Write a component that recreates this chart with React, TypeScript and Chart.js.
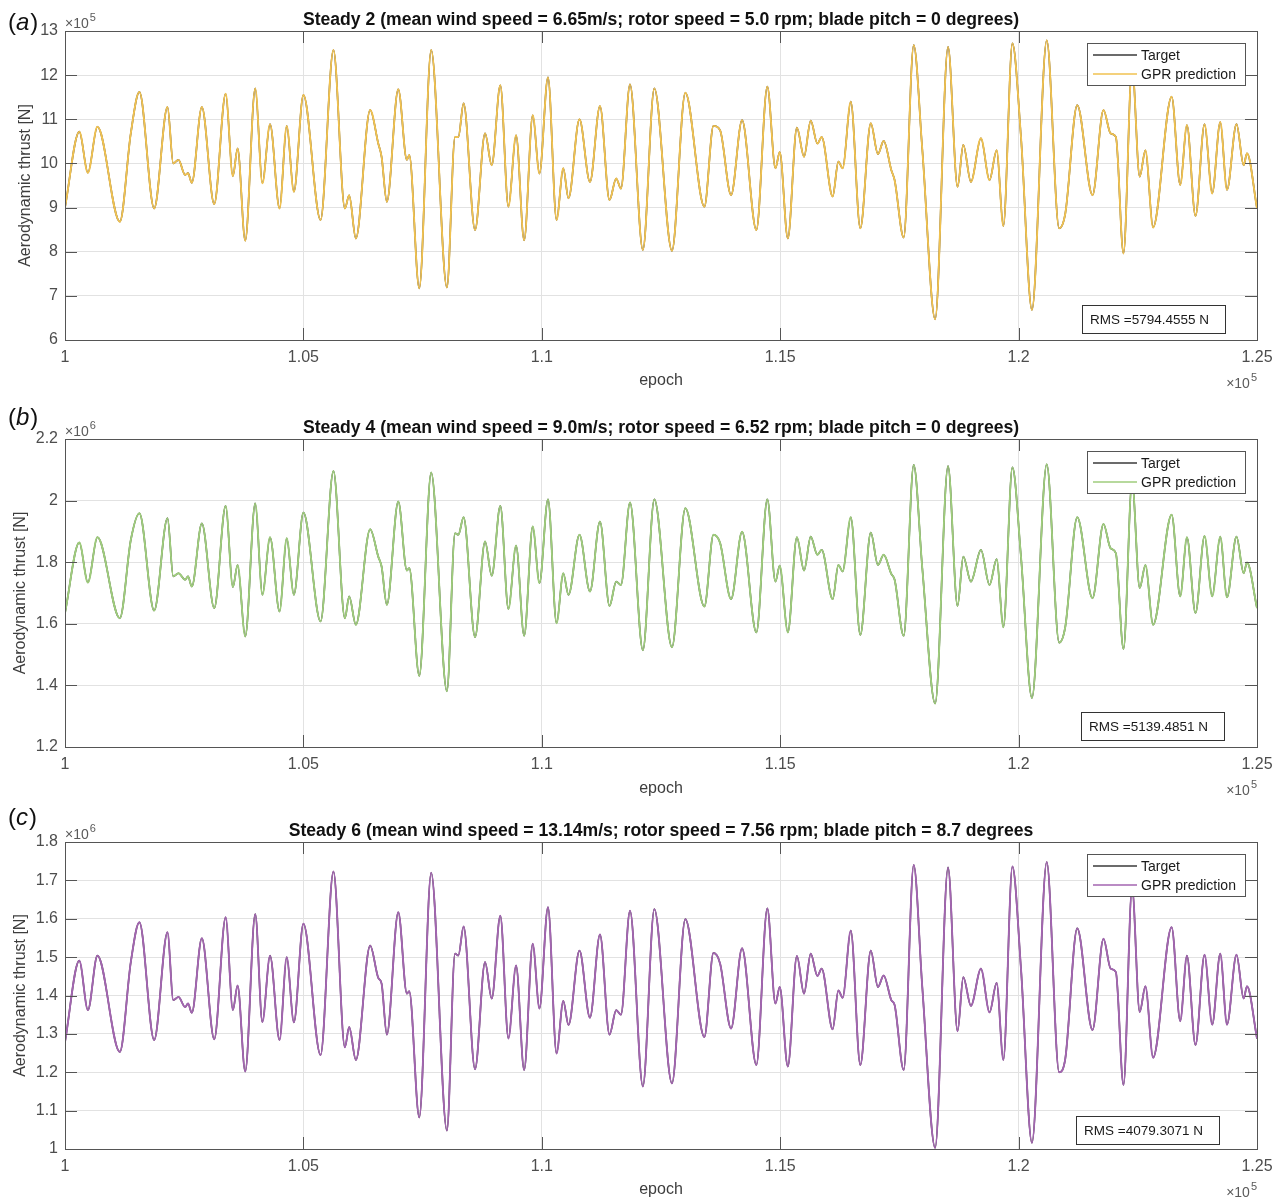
import { useEffect, useRef } from "react";
import { Chart, registerables, type Plugin } from "chart.js";

Chart.register(...registerables);

const FONT = '"Liberation Sans", Arial, Helvetica, sans-serif';
const AXIS = "#555555";
const GRID = "#e2e2e2";
const TICK_TEXT = "#4d4d4d";
const TARGET = "#3a3a3a";

// epochs of the traced peaks, troughs and kinks (same gust history in all three runs)
const epochs = [
  100000, 100300, 100480, 100680, 101150, 101380, 101560, 101870, 102150, 102270,
  102380, 102520, 102580, 102660, 102870, 103130, 103370, 103520, 103620, 103780,
  103990, 104140, 104300, 104500, 104650, 104800, 105000, 105360, 105630, 105870,
  105960, 106100, 106400, 106570, 106640, 106750, 106990, 107170, 107220, 107430,
  107680, 108010, 108180, 108250, 108360, 108600, 108810, 108950, 109130, 109300,
  109460, 109630, 109810, 109950, 110130, 110310, 110450, 110560, 110790, 111010,
  111220, 111420, 111560, 111660, 111850, 112120, 112360, 112730, 113010, 113410,
  113600, 113740, 113970, 114200, 114500, 114730, 114900, 114990, 115160, 115350,
  115500, 115640, 115780, 115870, 116100, 116220, 116310, 116480, 116680, 116900,
  117050, 117170, 117330, 117400, 117590, 117800, 117980, 118250, 118520, 118720,
  118840, 119000, 119210, 119390, 119540, 119680, 119870, 120050, 120280, 120590,
  120850, 120980, 121230, 121550, 121780, 121930, 122040, 122200, 122380, 122540,
  122660, 122820, 123210, 123390, 123530, 123710, 123900, 124060, 124230, 124370,
  124570, 124720, 124790, 125000,
];

// thrust, x10^5 N
const thrustSteady2 = [
  9.0, 10.72, 9.79, 10.83, 8.68, 10.68, 11.62, 8.98, 11.28, 10.0,
  10.08, 9.74, 9.78, 9.56, 11.28, 9.08, 11.58, 9.71, 10.34, 8.25,
  11.7, 9.55, 10.89, 8.98, 10.85, 9.36, 11.55, 8.72, 12.57, 8.98,
  9.28, 8.3, 11.21, 10.45, 10.15, 9.13, 11.68, 10.08, 10.19, 7.17,
  12.57, 7.19, 10.6, 10.6, 11.36, 8.49, 10.68, 9.96, 11.77, 9.02,
  10.64, 8.26, 11.09, 9.77, 11.95, 8.72, 9.89, 9.21, 11.0, 9.58,
  11.3, 9.17, 9.66, 9.43, 11.79, 8.04, 11.7, 8.02, 11.6, 9.02,
  10.85, 10.75, 9.28, 10.98, 8.49, 11.74, 9.89, 10.26, 8.3, 10.81,
  10.15, 10.97, 10.45, 10.6, 9.25, 10.04, 9.89, 11.4, 8.53, 10.91,
  10.21, 10.51, 9.85, 9.62, 8.32, 12.68, 10.32, 6.47, 12.64, 9.47,
  10.42, 9.58, 10.57, 9.62, 10.3, 8.58, 12.72, 10.6, 6.68, 12.79,
  8.53, 8.87, 11.32, 9.28, 11.21, 10.68, 10.6, 7.96, 12.2, 9.7,
  10.3, 8.55, 11.51, 9.51, 10.87, 8.81, 10.89, 9.32, 10.94, 9.4,
  10.89, 9.96, 10.23, 8.98,
];

// thrust, x10^6 N
const thrustSteady4 = [
  1.635, 1.864, 1.734, 1.881, 1.618, 1.872, 1.959, 1.643, 1.943, 1.754,
  1.764, 1.743, 1.754, 1.721, 1.926, 1.651, 1.983, 1.719, 1.791, 1.559,
  1.991, 1.694, 1.881, 1.64, 1.878, 1.694, 1.961, 1.608, 2.096, 1.618,
  1.689, 1.597, 1.907, 1.818, 1.786, 1.662, 1.997, 1.773, 1.781, 1.431,
  2.091, 1.381, 1.894, 1.889, 1.946, 1.557, 1.867, 1.756, 1.983, 1.648,
  1.854, 1.561, 1.916, 1.732, 2.004, 1.602, 1.764, 1.694, 1.889, 1.705,
  1.932, 1.658, 1.737, 1.726, 1.994, 1.514, 2.004, 1.524, 1.975, 1.656,
  1.889, 1.862, 1.68, 1.899, 1.572, 2.004, 1.737, 1.789, 1.572, 1.881,
  1.773, 1.883, 1.824, 1.84, 1.68, 1.791, 1.77, 1.946, 1.564, 1.896,
  1.791, 1.824, 1.762, 1.743, 1.561, 2.116, 1.781, 1.341, 2.112, 1.658,
  1.818, 1.737, 1.84, 1.726, 1.81, 1.589, 2.108, 1.818, 1.359, 2.118,
  1.539, 1.591, 1.946, 1.683, 1.924, 1.845, 1.829, 1.518, 2.06, 1.716,
  1.791, 1.597, 1.954, 1.689, 1.881, 1.635, 1.885, 1.689, 1.883, 1.686,
  1.883, 1.764, 1.799, 1.651,
];

// thrust, x10^6 N
const thrustSteady6 = [
  1.279, 1.491, 1.362, 1.504, 1.253, 1.487, 1.591, 1.284, 1.565, 1.388,
  1.396, 1.37, 1.379, 1.355, 1.549, 1.286, 1.604, 1.362, 1.426, 1.202,
  1.612, 1.331, 1.504, 1.284, 1.5, 1.33, 1.587, 1.245, 1.723, 1.265,
  1.318, 1.232, 1.53, 1.446, 1.431, 1.298, 1.617, 1.405, 1.411, 1.082,
  1.72, 1.048, 1.509, 1.504, 1.58, 1.208, 1.487, 1.392, 1.608, 1.288,
  1.478, 1.206, 1.535, 1.366, 1.63, 1.249, 1.386, 1.323, 1.517, 1.342,
  1.559, 1.298, 1.362, 1.35, 1.621, 1.163, 1.625, 1.171, 1.599, 1.292,
  1.511, 1.483, 1.314, 1.523, 1.219, 1.627, 1.379, 1.422, 1.215, 1.503,
  1.405, 1.509, 1.451, 1.47, 1.312, 1.413, 1.394, 1.569, 1.219, 1.517,
  1.422, 1.452, 1.388, 1.375, 1.206, 1.74, 1.422, 1.003, 1.734, 1.307,
  1.448, 1.373, 1.47, 1.356, 1.433, 1.232, 1.736, 1.47, 1.016, 1.748,
  1.2, 1.236, 1.575, 1.31, 1.548, 1.47, 1.461, 1.167, 1.68, 1.357,
  1.424, 1.238, 1.578, 1.333, 1.504, 1.271, 1.506, 1.324, 1.509, 1.324,
  1.506, 1.392, 1.424, 1.288,
];

const xTickValues = [100000, 105000, 110000, 115000, 120000, 125000];
const yTicksSteady2 = [6, 7, 8, 9, 10, 11, 12, 13];
const yTicksSteady4 = [1.2, 1.4, 1.6, 1.8, 2.0, 2.2];
const yTicksSteady6 = [1.0, 1.1, 1.2, 1.3, 1.4, 1.5, 1.6, 1.7, 1.8];

type Panel = {
  letter: string;
  title: string;
  values: number[];
  yTicks: number[];
  exponent: number;
  color: string;
  rms: string;
  top: number;
  plotTop: number;
  plotBottom: number;
  yTitlePad: number;
  epochPad: number;
  letterY: number;
  rmsRight: number;
  rmsBottom: number;
};

const panels: Panel[] = [
  {
    letter: "a",
    title: "Steady 2 (mean wind speed = 6.65m/s; rotor speed = 5.0 rpm; blade pitch = 0 degrees)",
    values: thrustSteady2,
    yTicks: yTicksSteady2,
    exponent: 5,
    color: "#f1c250",
    rms: "RMS =5794.4555 N",
    top: 0,
    plotTop: 31,
    plotBottom: 340,
    yTitlePad: 16,
    epochPad: 10,
    letterY: 23,
    rmsRight: 32,
    rmsBottom: 7,
  },
  {
    letter: "b",
    title: "Steady 4 (mean wind speed = 9.0m/s; rotor speed = 6.52 rpm; blade pitch = 0 degrees)",
    values: thrustSteady4,
    yTicks: yTicksSteady4,
    exponent: 6,
    color: "#9fcd7c",
    rms: "RMS =5139.4851 N",
    top: 400,
    plotTop: 39,
    plotBottom: 347,
    yTitlePad: 11,
    epochPad: 1.5,
    letterY: 18,
    rmsRight: 33,
    rmsBottom: 7,
  },
  {
    letter: "c",
    title: "Steady 6 (mean wind speed = 13.14m/s; rotor speed = 7.56 rpm; blade pitch = 8.7 degrees",
    values: thrustSteady6,
    yTicks: yTicksSteady6,
    exponent: 6,
    color: "#a365b1",
    rms: "RMS =4079.3071 N",
    top: 801,
    plotTop: 41,
    plotBottom: 348,
    yTitlePad: 11,
    epochPad: 1.5,
    letterY: 17,
    rmsRight: 38,
    rmsBottom: 5,
  },
];

const CANVAS_W = 1282;
const CANVAS_H = 400;
const TICK_LEN = 12;

function drawTimes10(ctx: CanvasRenderingContext2D, exp: number, x: number, y: number, alignRight: boolean) {
  ctx.font = `14px ${FONT}`;
  const base = "\u00d710";
  const wb = ctx.measureText(base).width;
  ctx.font = `11px ${FONT}`;
  const ws = ctx.measureText(String(exp)).width;
  const left = alignRight ? x - wb - ws - 1 : x;
  ctx.textAlign = "left";
  ctx.textBaseline = "alphabetic";
  ctx.font = `14px ${FONT}`;
  ctx.fillText(base, left, y);
  ctx.font = `11px ${FONT}`;
  ctx.fillText(String(exp), left + wb + 1, y - 7);
}

function decor(p: Panel): Plugin<"line"> {
  return {
    id: "matlabDecor",
    afterDraw(chart) {
      const { ctx, chartArea: a, scales } = chart;
      ctx.save();

      // inward tick marks on all four sides, then the axes box
      ctx.strokeStyle = AXIS;
      ctx.lineWidth = 1;
      ctx.beginPath();
      for (const t of scales.x.ticks) {
        const px = Math.round(scales.x.getPixelForValue(t.value)) + 0.5;
        ctx.moveTo(px, a.bottom);
        ctx.lineTo(px, a.bottom - TICK_LEN);
        ctx.moveTo(px, a.top);
        ctx.lineTo(px, a.top + TICK_LEN);
      }
      for (const t of scales.y.ticks) {
        const py = Math.round(scales.y.getPixelForValue(t.value)) + 0.5;
        ctx.moveTo(a.left, py);
        ctx.lineTo(a.left + TICK_LEN, py);
        ctx.moveTo(a.right, py);
        ctx.lineTo(a.right - TICK_LEN, py);
      }
      ctx.stroke();
      ctx.strokeRect(Math.round(a.left) + 0.5, Math.round(a.top) + 0.5, Math.round(a.right - a.left), Math.round(a.bottom - a.top));

      // title, centred over the axes
      ctx.fillStyle = "#111";
      ctx.font = `bold 17.6px ${FONT}`;
      ctx.textAlign = "center";
      ctx.textBaseline = "alphabetic";
      ctx.fillText(p.title, (a.left + a.right) / 2, a.top - 6);

      // panel letter "(a)"
      ctx.font = `24px ${FONT}`;
      ctx.textAlign = "left";
      ctx.textBaseline = "middle";
      ctx.fillStyle = "#111";
      let lx = 8;
      ctx.fillText("(", lx, p.letterY);
      lx += ctx.measureText("(").width;
      ctx.font = `italic 24px ${FONT}`;
      ctx.fillText(p.letter, lx, p.letterY);
      lx += ctx.measureText(p.letter).width + 1;
      ctx.font = `24px ${FONT}`;
      ctx.fillText(")", lx, p.letterY);

      // axis multipliers
      ctx.fillStyle = "#5a5a5a";
      drawTimes10(ctx, p.exponent, a.left, a.top - 3, false);
      drawTimes10(ctx, 5, a.right, a.bottom + 48, true);

      // legend box
      const lw = 158;
      const lh = 42;
      const lxBox = a.right - 12 - lw;
      const lyBox = a.top + 12;
      ctx.fillStyle = "#fff";
      ctx.fillRect(lxBox, lyBox, lw, lh);
      ctx.strokeStyle = AXIS;
      ctx.strokeRect(Math.round(lxBox) + 0.5, Math.round(lyBox) + 0.5, lw, lh);
      const rows = [
        { label: "Target", color: TARGET, y: lyBox + 12 },
        { label: "GPR prediction", color: p.color, y: lyBox + 31 },
      ];
      ctx.font = `14px ${FONT}`;
      ctx.textBaseline = "middle";
      for (const r of rows) {
        ctx.strokeStyle = r.color;
        ctx.lineWidth = 1.5;
        ctx.beginPath();
        ctx.moveTo(lxBox + 6, r.y);
        ctx.lineTo(lxBox + 50, r.y);
        ctx.stroke();
        ctx.fillStyle = "#1a1a1a";
        ctx.fillText(r.label, lxBox + 54, r.y + 1);
      }

      // RMS annotation
      const rw = 143;
      const rh = 28;
      const rx = a.right - p.rmsRight - rw;
      const ry = a.bottom - p.rmsBottom - rh;
      ctx.fillStyle = "#fff";
      ctx.fillRect(rx, ry, rw, rh);
      ctx.strokeStyle = "#333";
      ctx.lineWidth = 1;
      ctx.strokeRect(Math.round(rx) + 0.5, Math.round(ry) + 0.5, rw, rh);
      ctx.fillStyle = "#1a1a1a";
      ctx.font = `13.5px ${FONT}`;
      ctx.fillText(p.rms, rx + 8, ry + rh / 2 + 1);

      ctx.restore();
    },
  };
}

function ThrustPanel({ panel }: { panel: Panel }) {
  const canvasRef = useRef<HTMLCanvasElement | null>(null);

  useEffect(() => {
    if (!canvasRef.current) return;
    const points = epochs.map((x, i) => ({ x, y: panel.values[i] }));
    const yMin = panel.yTicks[0];
    const yMax = panel.yTicks[panel.yTicks.length - 1];

    const chart = new Chart(canvasRef.current, {
      type: "line",
      data: {
        datasets: [
          {
            label: "Target",
            data: points,
            borderColor: TARGET,
            borderWidth: 1.6,
            pointRadius: 0,
            cubicInterpolationMode: "monotone",
            order: 2,
          },
          {
            label: "GPR prediction",
            data: points,
            borderColor: panel.color,
            borderWidth: 1.9,
            pointRadius: 0,
            cubicInterpolationMode: "monotone",
            order: 1,
          },
        ],
      },
      options: {
        responsive: false,
        animation: false,
        events: [],
        layout: { padding: { top: panel.plotTop, left: 0, right: CANVAS_W - 1257, bottom: 0 } },
        plugins: {
          legend: { display: false },
          title: { display: false },
          tooltip: { enabled: false },
        },
        scales: {
          x: {
            type: "linear",
            min: 100000,
            max: 125000,
            afterBuildTicks: (s) => {
              s.ticks = xTickValues.map((value) => ({ value }));
            },
            afterFit: (s) => {
              s.height = CANVAS_H - panel.plotBottom;
            },
            grid: { color: GRID, drawTicks: false },
            border: { display: false },
            ticks: {
              color: TICK_TEXT,
              font: { family: FONT, size: 16 },
              padding: 8,
              maxRotation: 0,
              autoSkip: false,
              callback: (v) => String(Number((Number(v) / 1e5).toFixed(2))),
            },
            title: {
              display: true,
              text: "epoch",
              color: "#3d3d3d",
              font: { family: FONT, size: 16 },
              padding: { top: 0, bottom: panel.epochPad },
            },
          },
          y: {
            type: "linear",
            min: yMin,
            max: yMax,
            afterBuildTicks: (s) => {
              s.ticks = panel.yTicks.map((value) => ({ value }));
            },
            afterFit: (s) => {
              s.width = 65;
            },
            grid: { color: GRID, drawTicks: false },
            border: { display: false },
            ticks: {
              color: TICK_TEXT,
              font: { family: FONT, size: 16 },
              padding: 7,
              autoSkip: false,
              callback: (v) => String(Number(Number(v).toFixed(2))),
            },
            title: {
              display: true,
              text: "Aerodynamic thrust [N]",
              color: "#3d3d3d",
              font: { family: FONT, size: 16 },
              padding: { top: panel.yTitlePad, bottom: 0 },
            },
          },
        },
      },
      plugins: [decor(panel)],
    });

    return () => chart.destroy();
  }, [panel]);

  return (
    <canvas
      ref={canvasRef}
      width={CANVAS_W}
      height={CANVAS_H}
      style={{ position: "absolute", left: 0, top: panel.top, display: "block" }}
    />
  );
}

export default function App() {
  return (
    <div style={{ position: "absolute", left: 0, top: 0, width: CANVAS_W, height: 1201, background: "#fff", overflow: "hidden" }}>
      {panels.map((p) => (
        <ThrustPanel key={p.letter} panel={p} />
      ))}
    </div>
  );
}
